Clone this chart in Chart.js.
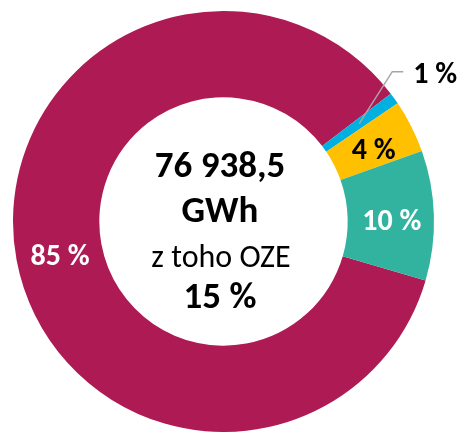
<!DOCTYPE html>
<html>
<head>
<meta charset="utf-8">
<script src="https://cdn.jsdelivr.net/npm/chart.js@4.4.1/dist/chart.umd.min.js"></script>
<style>
  html, body { margin: 0; padding: 0; background: #ffffff; }
  #wrap { position: relative; width: 461px; height: 432px; }
</style>
</head>
<body>
<div id="wrap"><canvas id="c" width="461" height="432"></canvas></div>
<script>
// ---- data ----
const categories = ["Fosilní a ostatní", "OZE 1", "OZE 2", "OZE 3"];
const shares = [85.1, 0.9, 4.05, 9.95];
const sliceLabels = ["85 %", "1 %", "4 %", "10 %"];
const sliceColors = ["#AE1A53", "#00B0E0", "#FFC000", "#32B3A0"];
const labelColors = ["#ffffff", "#000000", "#000000", "#ffffff"];
const centerLines = ["76 938,5", "GWh", "z toho OZE", "15 %"];

const FONT = "Carlito, Lato, 'Open Sans', sans-serif";

const labelPlugin = {
  id: 'sliceLabels',
  afterDatasetsDraw(chart) {
    const ctx = chart.ctx;
    const meta = chart.getDatasetMeta(0);
    ctx.save();
    ctx.textBaseline = 'alphabetic';
    meta.data.forEach((arc, i) => {
      const p = arc.getCenterPoint();
      ctx.font = "bold 30px " + FONT;
      ctx.fillStyle = labelColors[i];
      if (i === 1) {
        // leader line to outside label
        const ex = p.x + 33, ey = p.y - 52;
        ctx.strokeStyle = '#A6A6A6';
        ctx.lineWidth = 1.5;
        ctx.beginPath();
        ctx.moveTo(p.x, p.y);
        ctx.lineTo(ex, ey);
        ctx.lineTo(ex + 11, ey);
        ctx.stroke();
        ctx.textAlign = 'left';
        ctx.fillText(sliceLabels[i], ex + 21, ey + 11);
      } else {
        ctx.textAlign = 'center';
        ctx.fillText(sliceLabels[i], p.x + 1, p.y + 13);
      }
    });
    // center text
    const a = meta.data[0];
    const cx = a.x - 3.5, cy = a.y;
    ctx.fillStyle = '#000000';
    ctx.textAlign = 'center';
    ctx.font = "bold 37px " + FONT;
    ctx.fillText(centerLines[0], cx, cy - 45);
    ctx.fillText(centerLines[1], cx, cy);
    ctx.font = "32px " + FONT;
    ctx.fillText(centerLines[2], cx + 1, cy + 45);
    ctx.font = "bold 37px " + FONT;
    ctx.fillText(centerLines[3], cx, cy + 86);
    ctx.restore();
  }
};

new Chart(document.getElementById('c'), {
  type: 'doughnut',
  data: {
    labels: categories,
    datasets: [{
      data: shares,
      backgroundColor: sliceColors,
      borderWidth: 0,
      hoverOffset: 0
    }]
  },
  options: {
    responsive: false,
    animation: false,
    rotation: 106.25,
    cutout: '59%',
    layout: { padding: { top: 11, bottom: -1, left: 12, right: 26 } },
    plugins: {
      legend: { display: false },
      tooltip: { enabled: false }
    },
    events: []
  },
  plugins: [labelPlugin]
});
</script>
</body>
</html>
